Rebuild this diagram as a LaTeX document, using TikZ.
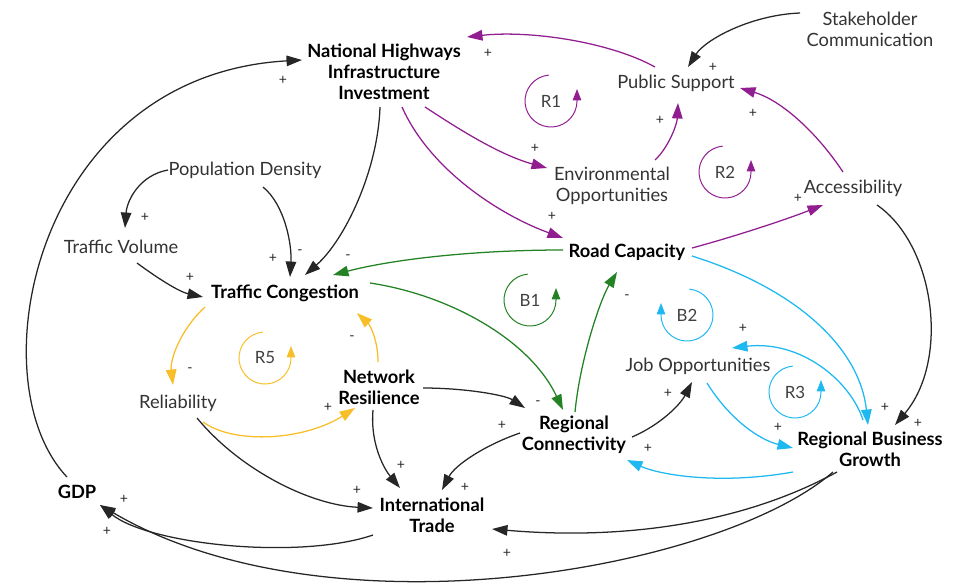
\documentclass[tikz,border=0pt]{standalone}
\usepackage{fontspec}
\setmainfont{Lato}
\usetikzlibrary{arrows.meta, calc}
\definecolor{purp}{RGB}{145,30,145}
\definecolor{grn}{RGB}{35,130,35}
\definecolor{cyn}{RGB}{30,185,240}
\definecolor{yel}{RGB}{248,190,40}

\begin{document}
\begin{tikzpicture}[x=0.025cm, y=-0.025cm,
  var/.style={font=\fontsize{13}{15}\selectfont, align=center, inner sep=1pt, text=black!80},
  keyvar/.style={var, font=\fontsize{13}{15}\selectfont\bfseries, text=black},
  sgn/.style={font=\fontsize{10}{10}\selectfont, inner sep=0pt, text=black!85},
  loopname/.style={font=\fontsize{12}{12}\selectfont, inner sep=0pt, text=black!75},
  link/.style={line width=0.9pt, -{Triangle[length=11pt,width=7.5pt]}},
  looparc/.style={line width=0.7pt, -{Triangle[length=8pt,width=6pt]}},
  blk/.style={link, black!85},
  plink/.style={link, purp},
  glink/.style={link, grn},
  clink/.style={link, cyn},
  ylink/.style={link, yel}]
  \useasboundingbox (0,0) rectangle (964,586);

  % variables
  \node[keyvar] (nhi) at (384,72) {National Highways\\Infrastructure\\Investment};
  \node[var] (stake) at (870,29) {Stakeholder\\Communication};
  \node[var] (pubsup) at (676,83) {Public Support};
  \node[var] (envop) at (612,186) {Environmental\\Opportunities};
  \node[var] (access) at (853,188) {Accessibility};
  \node[var] (popden) at (245,170) {Population Density};
  \node[var] (trvol) at (121,247) {Traffic Volume};
  \node[keyvar] (trcong) at (285,293) {Traffic Congestion};
  \node[keyvar] (roadcap) at (627,252) {Road Capacity};
  \node[var] (relia) at (178,403) {Reliability};
  \node[keyvar] (netres) at (379,387) {Network\\Resilience};
  \node[keyvar] (regcon) at (574,435) {Regional\\Connectivity};
  \node[var] (jobop) at (698,366) {Job Opportunities};
  \node[keyvar] (rbg) at (870,449) {Regional Business\\Growth};
  \node[keyvar] (gdp) at (77,492) {GDP};
  \node[keyvar] (intrade) at (432,515) {International\\Trade};

  % black links
  \draw[blk] ($(stake)+(-70,-16)$) .. controls (750,15) and (705,40) .. ($(pubsup)+(12,-16)$);
  \draw[blk] ($(gdp)+(-10,-15)$) .. controls (-25,380) and (35,75) .. ($(nhi)+(-82,-12)$);
  \draw[blk] ($(nhi)+(-4,35)$) .. controls (378,170) and (345,240) .. ($(trcong)+(20,-18)$);
  \draw[blk] ($(popden)+(-77,0)$) .. controls (140,175) and (127,200) .. ($(trvol)+(4,-19)$);
  \draw[blk] ($(popden)+(18,17)$) .. controls (285,205) and (292,245) .. ($(trcong)+(5,-16)$);
  \draw[blk] ($(trvol)+(16,16)$) .. controls (160,280) and (180,292) .. ($(trcong)+(-82,4)$);
  \draw[blk] ($(relia)+(19,15)$) .. controls (240,470) and (310,505) .. ($(intrade)+(-59,-7)$);
  \draw[blk] ($(netres)+(-6,23)$) .. controls (370,445) and (385,470) .. ($(intrade)+(-32,-27)$);
  \draw[blk] ($(netres)+(44,1)$) .. controls (465,388) and (505,395) .. ($(regcon)+(-49,-27)$);
  \draw[blk] ($(regcon)+(-54,-2)$) .. controls (485,445) and (455,465) .. ($(intrade)+(10,-25)$);
  \draw[blk] ($(intrade)+(-59,20)$) .. controls (300,560) and (150,545) .. ($(gdp)+(23,13)$);
  \draw[blk] ($(rbg)+(-37,23)$) .. controls (720,570) and (330,640) .. ($(gdp)+(23,13)$);
  \draw[blk] ($(rbg)+(-33,23)$) .. controls (740,525) and (620,540) .. ($(intrade)+(60,14)$);
  \draw[blk] ($(access)+(24,17)$) .. controls (935,245) and (950,360) .. ($(rbg)+(25,-24)$);
  \draw[blk] ($(regcon)+(58,2)$) .. controls (660,425) and (680,405) .. ($(jobop)+(-6,16)$);

  % purple links
  \draw[plink] ($(pubsup)+(-21,-16)$) .. controls (610,42) and (530,30) .. ($(nhi)+(83,-35)$);
  \draw[plink] ($(nhi)+(41,35)$) .. controls (460,130) and (500,155) .. ($(envop)+(-65,-18)$);
  \draw[plink] ($(nhi)+(18,35)$) .. controls (430,170) and (500,215) .. ($(roadcap)+(-64,-14)$);
  \draw[plink] ($(envop)+(43,-26)$) .. controls (668,148) and (677,125) .. ($(pubsup)+(2,20)$);
  \draw[plink] ($(access)+(-10,-16)$) .. controls (815,130) and (780,100) .. ($(pubsup)+(64,5)$);
  \draw[plink] ($(roadcap)+(65,-4)$) .. controls (740,235) and (790,218) .. ($(access)+(-30,17)$);

  % green links
  \draw[glink] ($(roadcap)+(-64,-2)$) .. controls (470,250) and (390,260) .. ($(trcong)+(48,-18)$);
  \draw[glink] ($(trcong)+(85,-10)$) .. controls (450,295) and (530,340) .. ($(regcon)+(-11,-25)$);
  \draw[glink] ($(regcon)+(1,-23)$) .. controls (580,360) and (600,300) .. ($(roadcap)+(-10,20)$);

  % cyan links
  \draw[clink] ($(roadcap)+(65,4)$) .. controls (800,290) and (860,350) .. ($(rbg)+(-2,-24)$);
  \draw[clink] ($(rbg)+(-7,-29)$) .. controls (850,380) and (800,340) .. ($(jobop)+(34,-18)$);
  \draw[clink] ($(jobop)+(9,17)$) .. controls (730,420) and (760,440) .. ($(rbg)+(-77,-1)$);
  \draw[clink] ($(rbg)+(-77,23)$) .. controls (720,485) and (660,475) .. ($(regcon)+(53,25)$);

  % yellow links
  \draw[ylink] ($(trcong)+(-80,14)$) .. controls (180,330) and (170,360) .. ($(relia)+(-5,-18)$);
  \draw[ylink] ($(relia)+(25,19)$) .. controls (235,445) and (305,440) .. ($(netres)+(-24,21)$);
  \draw[ylink] ($(netres)+(-1,-25)$) .. controls (378,340) and (370,325) .. ($(trcong)+(72,20)$);

  % polarities
  \foreach \sx/\sy/\st [count=\i] in {713/67/+, 283/80/+, 300/252/-, 145/217/+, 273/258/+,
      190/277/+, 357/490/+, 401/465/+, 538/403/-, 502/425/+, 465/487/+, 107/531/+,
      124/499/+, 507/553/+, 885/407/+, 918/423/+, 668/393/+, 488/53/+, 535/148/+,
      552/216/+, 660/120/+, 753/113/+, 798/198/+, 348/257/-, 627/297/-, 743/328/+,
      778/427/+, 648/448/+, 190/370/-, 328/407/+, 352/338/-}
    \node[sgn] (sg\i) at (\sx,\sy) {\st};

  % loop markers
  \node[loopname] (r1) at (551,101) {R1};
  \node[loopname] (r2) at (725,172) {R2};
  \node[loopname] (b1) at (530,300) {B1};
  \node[loopname] (b2) at (687,315) {B2};
  \node[loopname] (r3) at (795,392) {R3};
  \node[loopname] (r5) at (265,358) {R5};
  \draw[looparc, purp] ($(r1.center)+(-95:26)$) arc[start angle=-95, end angle=-360, radius=26] -- ++(0,-12);
  \draw[looparc, purp] ($(r2.center)+(-95:26)$) arc[start angle=-95, end angle=-360, radius=26] -- ++(0,-12);
  \draw[looparc, grn] ($(b1.center)+(-95:26)$) arc[start angle=-95, end angle=-360, radius=26] -- ++(0,-12);
  \draw[looparc, cyn] ($(b2.center)+(-85:26)$) arc[start angle=-85, end angle=180, radius=26] -- ++(0,-12);
  \draw[looparc, cyn] ($(r3.center)+(-95:26)$) arc[start angle=-95, end angle=-360, radius=26] -- ++(0,-12);
  \draw[looparc, yel] ($(r5.center)+(-95:26)$) arc[start angle=-95, end angle=-360, radius=26] -- ++(0,-12);
\end{tikzpicture}
\end{document}
